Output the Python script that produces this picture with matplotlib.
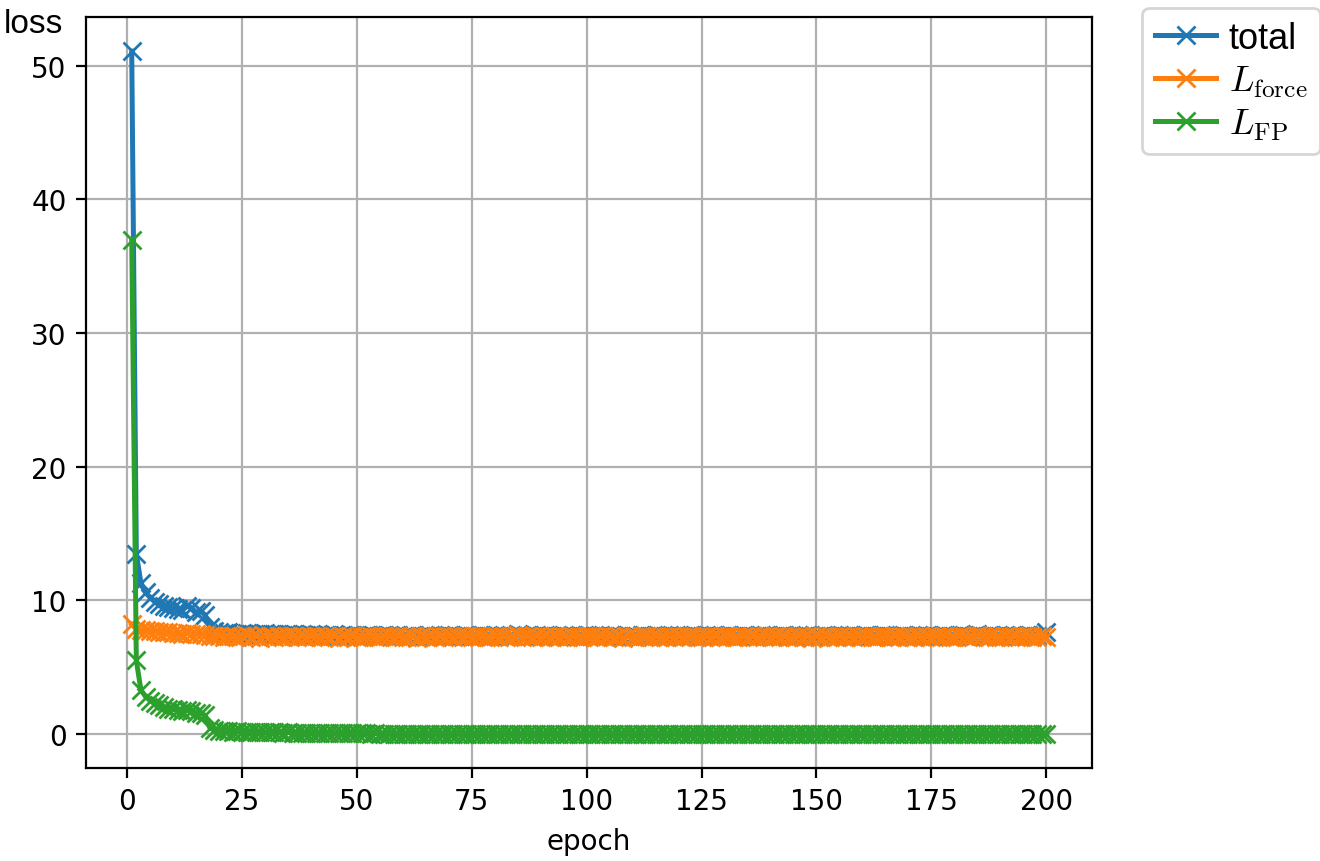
import matplotlib
matplotlib.use("Agg")
import matplotlib.pyplot as plt
import numpy as np

plt.rcParams['mathtext.fontset'] = 'cm'

# loss per epoch
epoch = np.arange(1, 201)

loss_total = [
    51.1, 13.5, 11.3, 10.6, 10.2, 9.9, 9.75, 9.6, 9.5, 9.4, 9.35, 9.3, 9.55, 9.45, 9.1, 9.2, 8.9, 8.0, 7.7, 7.6,
    7.55, 7.6, 7.52, 7.5, 7.55, 7.58, 7.48, 7.5, 7.45, 7.55, 7.5, 7.46, 7.5, 7.42, 7.47, 7.52, 7.4, 7.45, 7.43, 7.48,
    7.42, 7.38, 7.44, 7.4, 7.46, 7.33, 7.4, 7.37, 7.42, 7.38, 7.34, 7.4, 7.44, 7.36, 7.32, 7.38, 7.41, 7.34, 7.39, 7.33,
    7.36, 7.42, 7.29, 7.37, 7.35, 7.4, 7.33, 7.38, 7.36, 7.41, 7.32, 7.37, 7.35, 7.39, 7.34, 7.37, 7.42, 7.31, 7.36, 7.38,
    7.35, 7.4, 7.33, 7.37, 7.45, 7.34, 7.38, 7.32, 7.41, 7.36, 7.39, 7.33, 7.37, 7.35, 7.42, 7.31, 7.38, 7.36, 7.34, 7.4,
    7.37, 7.33, 7.39, 7.35, 7.41, 7.32, 7.37, 7.29, 7.38, 7.36, 7.34, 7.4, 7.37, 7.33, 7.42, 7.35, 7.31, 7.38, 7.36, 7.39,
    7.34, 7.37, 7.41, 7.33, 7.36, 7.38, 7.35, 7.42, 7.32, 7.37, 7.39, 7.34, 7.36, 7.4, 7.33, 7.37, 7.35, 7.38, 7.43, 7.32,
    7.37, 7.35, 7.39, 7.33, 7.36, 7.41, 7.34, 7.38, 7.29, 7.37, 7.35, 7.4, 7.32, 7.36, 7.38, 7.34, 7.42, 7.35, 7.37, 7.33,
    7.39, 7.36, 7.34, 7.38, 7.41, 7.33, 7.37, 7.35, 7.4, 7.32, 7.36, 7.38, 7.34, 7.42, 7.35, 7.37, 7.33, 7.39, 7.36, 7.34,
    7.38, 7.41, 7.35, 7.33, 7.45, 7.37, 7.34, 7.4, 7.36, 7.32, 7.38, 7.35, 7.39, 7.33, 7.37, 7.41, 7.34, 7.36, 7.38, 7.6,
]

loss_force = [
    8.2, 7.85, 7.8, 7.75, 7.7, 7.72, 7.65, 7.6, 7.62, 7.55, 7.58, 7.5, 7.55, 7.48, 7.5, 7.45, 7.42, 7.35, 7.3, 7.32,
    7.28, 7.35, 7.3, 7.25, 7.32, 7.38, 7.27, 7.3, 7.22, 7.35, 7.3, 7.28, 7.33, 7.25, 7.3, 7.36, 7.24, 7.3, 7.28, 7.34,
    7.3, 7.26, 7.32, 7.28, 7.35, 7.22, 7.3, 7.27, 7.33, 7.29, 7.25, 7.31, 7.36, 7.28, 7.24, 7.3, 7.33, 7.27, 7.31, 7.26,
    7.29, 7.35, 7.22, 7.3, 7.28, 7.33, 7.26, 7.31, 7.29, 7.34, 7.25, 7.3, 7.28, 7.32, 7.27, 7.3, 7.35, 7.24, 7.29, 7.31,
    7.28, 7.33, 7.26, 7.3, 7.38, 7.27, 7.31, 7.25, 7.34, 7.29, 7.32, 7.26, 7.3, 7.28, 7.35, 7.24, 7.31, 7.29, 7.27, 7.33,
    7.3, 7.26, 7.32, 7.28, 7.34, 7.25, 7.3, 7.22, 7.31, 7.29, 7.27, 7.33, 7.3, 7.26, 7.35, 7.28, 7.24, 7.31, 7.29, 7.32,
    7.27, 7.3, 7.34, 7.26, 7.29, 7.31, 7.28, 7.35, 7.25, 7.3, 7.32, 7.27, 7.29, 7.33, 7.26, 7.3, 7.28, 7.31, 7.36, 7.25,
    7.3, 7.28, 7.32, 7.26, 7.29, 7.34, 7.27, 7.31, 7.22, 7.3, 7.28, 7.33, 7.25, 7.29, 7.31, 7.27, 7.35, 7.28, 7.3, 7.26,
    7.32, 7.29, 7.27, 7.31, 7.34, 7.26, 7.3, 7.28, 7.33, 7.25, 7.29, 7.31, 7.27, 7.35, 7.28, 7.3, 7.26, 7.32, 7.29, 7.27,
    7.31, 7.34, 7.28, 7.26, 7.38, 7.3, 7.27, 7.33, 7.29, 7.25, 7.31, 7.28, 7.32, 7.26, 7.3, 7.34, 7.27, 7.29, 7.31, 7.28,
]

loss_fp = [
    37.0, 5.5, 3.3, 2.8, 2.5, 2.3, 2.15, 2.0, 1.9, 1.85, 1.8, 1.75, 1.8, 1.7, 1.6, 1.55, 1.4, 0.45, 0.3, 0.25,
    0.22, 0.2, 0.18, 0.2, 0.17, 0.15, 0.18, 0.14, 0.15, 0.13, 0.14, 0.12, 0.13, 0.11, 0.12, 0.1, 0.11, 0.09, 0.1, 0.08,
    0.09, 0.07, 0.08, 0.06, 0.07, 0.05, 0.06, 0.05, 0.04, 0.05, 0.04, 0.04, 0.03, 0.04, 0.03, 0.03, 0.03, 0.02, 0.03, 0.02,
    0.02, 0.03, 0.02, 0.02, 0.01, 0.02, 0.03, 0.02, 0.02, 0.01, 0.02, 0.02, 0.03, 0.02, 0.01, 0.02, 0.02, 0.02, 0.01, 0.02,
    0.02, 0.01, 0.02, 0.03, 0.02, 0.02, 0.01, 0.02, 0.02, 0.01, 0.02, 0.02, 0.01, 0.02, 0.03, 0.02, 0.01, 0.02, 0.02, 0.01,
    0.02, 0.02, 0.01, 0.02, 0.02, 0.01, 0.02, 0.03, 0.02, 0.01, 0.02, 0.02, 0.01, 0.02, 0.02, 0.01, 0.02, 0.02, 0.01, 0.02,
    0.02, 0.01, 0.02, 0.02, 0.01, 0.02, 0.02, 0.03, 0.01, 0.02, 0.02, 0.01, 0.02, 0.02, 0.01, 0.02, 0.02, 0.01, 0.02, 0.02,
    0.01, 0.02, 0.02, 0.01, 0.02, 0.02, 0.01, 0.02, 0.03, 0.02, 0.01, 0.02, 0.02, 0.01, 0.02, 0.02, 0.01, 0.02, 0.02, 0.01,
    0.02, 0.02, 0.01, 0.02, 0.02, 0.01, 0.02, 0.02, 0.01, 0.02, 0.02, 0.01, 0.02, 0.03, 0.02, 0.01, 0.02, 0.02, 0.01, 0.02,
    0.02, 0.01, 0.02, 0.02, 0.01, 0.02, 0.02, 0.01, 0.02, 0.02, 0.01, 0.02, 0.02, 0.01, 0.02, 0.02, 0.01, 0.02, 0.02, 0.02,
]

fig = plt.figure(figsize=(6.6, 4.31), dpi=200)
ax = fig.add_axes([86/1320, 1-769/862, (1092-86)/1320, (769-18)/862])

ax.plot(epoch, loss_total, marker='x', ms=6.5, lw=1.8, label='total')
ax.plot(epoch, loss_force, marker='x', ms=6.5, lw=1.8, label=r'$L_{\mathrm{force}}$')
ax.plot(epoch, loss_fp, marker='x', ms=6.5, lw=1.8, label=r'$L_{\mathrm{FP}}$')

ax.grid(True)
ax.set_xlabel('epoch')
# y label sits horizontally above the tick labels
fig.text(4/1320, 1-33/862, 'loss', family='Liberation Sans', fontsize=12, va='baseline')

ax.legend(bbox_to_anchor=(1.05, 1.012), loc='upper left', borderaxespad=0,
          handlelength=1.7, handletextpad=0.35, labelspacing=0.22, borderpad=0.35,
          prop={'family': 'Liberation Sans', 'size': 13})

plt.savefig('out.png', dpi=200)
